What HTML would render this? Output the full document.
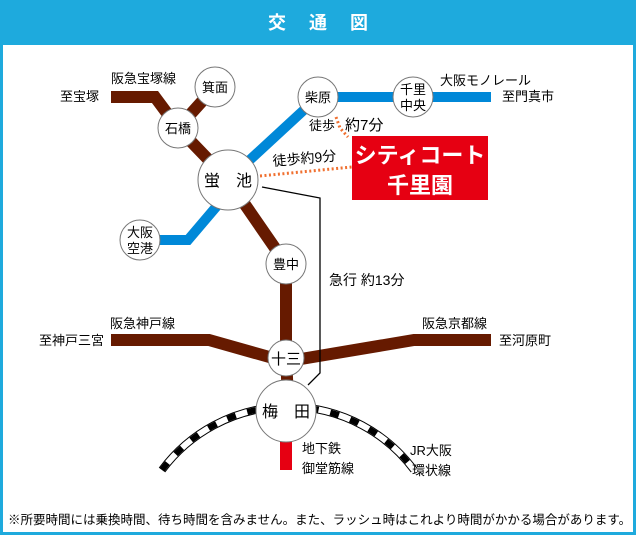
<!DOCTYPE html>
<html><head><meta charset="utf-8"><style>
body{margin:0;width:636px;height:535px;overflow:hidden;background:#fff;font-family:"Liberation Sans","Noto Sans CJK JP",sans-serif}
</style></head><body>
<svg width="636" height="535" viewBox="0 0 636 535" xmlns="http://www.w3.org/2000/svg" font-family="Liberation Sans, Noto Sans CJK JP, sans-serif">
<rect x="0" y="0" width="636" height="535" fill="#1eaadd"/>
<rect x="3" y="45" width="630" height="487" fill="#fff"/>
<text x="318" y="29" fill="#fff" font-size="18" font-weight="bold" text-anchor="middle">交　 通　 図</text>
<!-- brown lines -->
<g fill="none" stroke="#661a00" stroke-width="12" stroke-linejoin="miter">
<polyline points="111,97 155,97 178,128 228,180 286,264 286,355 288,400"/>
<line x1="178" y1="128" x2="215" y2="87"/>
<polyline points="111,340 209,340 280,360"/>
<polyline points="295,360 414,340 491,340"/>
</g>
<!-- blue -->
<g fill="none" stroke="#0088d8" stroke-width="10">
<polyline points="228,180 318,97 491,97"/>
<polyline points="140,240 188,240 222,200"/>
</g>
<!-- JR loop -->
<path d="M162,470 A157,157 0 0 1 414,470" fill="none" stroke="#000" stroke-width="8"/>
<path d="M162,470 A157,157 0 0 1 414,470" fill="none" stroke="#fff" stroke-width="6"/>
<path d="M162,470 A157,157 0 0 1 414,470" fill="none" stroke="#000" stroke-width="6" stroke-dasharray="9,12"/>
<!-- subway -->
<rect x="280" y="441" width="12" height="29" fill="#e60012"/>
<!-- express -->
<polyline points="262,187 320,198 320,373 308,385" fill="none" stroke="#000" stroke-width="1.3"/>
<!-- dotted -->
<g stroke="#f07030" stroke-width="3" stroke-dasharray="2,2.5" fill="none">
<line x1="260" y1="176" x2="352" y2="167"/>
<polyline points="336,117 340,128 348,137"/>
</g>
<!-- red box -->
<rect x="352" y="136" width="136" height="64" fill="#e60012"/>
<text x="420" y="163" fill="#fff" font-size="22" font-weight="bold" text-anchor="middle">シティコート</text>
<text x="420" y="193" fill="#fff" font-size="22" font-weight="bold" text-anchor="middle">千里園</text>
<!-- circles -->
<g fill="#fff" stroke="#777" stroke-width="1">
<circle cx="215" cy="87" r="20"/>
<circle cx="178" cy="128" r="20"/>
<circle cx="228" cy="180" r="30"/>
<circle cx="318" cy="97" r="20"/>
<circle cx="413" cy="97" r="20"/>
<circle cx="140" cy="240" r="20"/>
<circle cx="286" cy="264" r="20"/>
<circle cx="286" cy="358" r="18"/>
<ellipse cx="286" cy="411" rx="30" ry="31"/>
</g>
<g font-size="13" fill="#000" text-anchor="middle">
<text x="215" y="92">箕面</text>
<text x="178" y="133">石橋</text>
<text x="228" y="186" font-size="16">蛍　池</text>
<text x="318" y="102">柴原</text>
<text x="413" y="94">千里</text><text x="413" y="110">中央</text>
<text x="140" y="237">大阪</text><text x="140" y="253">空港</text>
<text x="286" y="269">豊中</text>
<text x="286" y="364" font-size="15">十三</text>
<text x="286" y="417" font-size="16">梅　田</text>
</g>
<g font-size="13" fill="#000">
<text x="111" y="83">阪急宝塚線</text>
<text x="60" y="101">至宝塚</text>
<text x="440" y="85">大阪モノレール</text>
<text x="502" y="101">至門真市</text>
<text x="309" y="130">徒歩</text>
<text x="345" y="130" font-size="15">約7分</text>
<text x="273" y="166" font-size="14" transform="rotate(-5 273 166)">徒歩約9分</text>
<text x="329" y="285" font-size="14">急行 約13分</text>
<text x="110" y="328">阪急神戸線</text>
<text x="39" y="345">至神戸三宮</text>
<text x="422" y="328">阪急京都線</text>
<text x="499" y="345">至河原町</text>
<text x="302" y="453">地下鉄</text>
<text x="302" y="473">御堂筋線</text>
<text x="410" y="455">JR大阪</text>
<text x="412" y="475">環状線</text>
<text x="8" y="524" font-size="12.5">※所要時間には乗換時間、待ち時間を含みません。また、ラッシュ時はこれより時間がかかる場合があります。</text>
</g>
</svg>
</body></html>
